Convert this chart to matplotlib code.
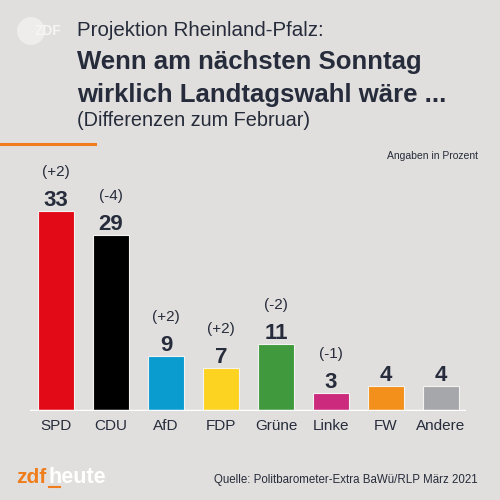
import matplotlib.pyplot as plt
from matplotlib.patches import Circle

plt.rcParams["font.family"] = ["Liberation Sans", "DejaVu Sans"]

# data
parties = ["SPD", "CDU", "AfD", "FDP", "Grüne", "Linke", "FW", "Andere"]
values = [33, 29, 9, 7, 11, 3, 4, 4]
changes = ["(+2)", "(-4)", "(+2)", "(+2)", "(-2)", "(-1)", "", ""]
colors = ["#e30a18", "#000000", "#0a9bcf", "#fdd321", "#409a3d",
          "#cc2a7d", "#f2901b", "#a5a7ab"]

bg = "#e1dfdd"
dark = "#262c3b"
orange = "#f07d1c"

fig = plt.figure(figsize=(5, 5), dpi=100, facecolor=bg)

ax = fig.add_axes([0.06, 0.1786, 0.872, 0.5])
ax.set_facecolor(bg)
x = list(range(len(parties)))
ax.bar(x, values, width=0.64, color=colors, edgecolor="#f4f3f2", linewidth=0.8,
       zorder=2)
ax.set_xlim(-0.473, 7.455)
ax.set_ylim(0, 41.25)
ax.axhline(0, color="white", linewidth=2.5, zorder=3)
for s in ax.spines.values():
    s.set_visible(False)
ax.set_yticks([])
ax.set_xticks(x)
ax.set_xticklabels(parties, fontsize=11, color=dark)
ax.tick_params(axis="x", length=0, pad=6)

for xi, v, c in zip(x, values, changes):
    ax.annotate(str(v), (xi, v), xytext=(0, 5), textcoords="offset pixels",
                ha="center", va="baseline", fontsize=16, fontweight="bold",
                color=dark)
    if c:
        ax.annotate(c, (xi, v), xytext=(0, 35), textcoords="offset pixels",
                    ha="center", va="baseline", fontsize=11, color=dark)

# header
fig.text(0.154, 0.94, "Projektion Rheinland-Pfalz:", fontsize=14.8, color=dark,
         va="center")
fig.text(0.154, 0.876, "Wenn am nächsten Sonntag", fontsize=18.5, color=dark,
         fontweight="bold", va="center")
fig.text(0.154, 0.81, "wirklich Landtagswahl wäre ...", fontsize=18.5,
         color=dark, fontweight="bold", va="center")
fig.text(0.154, 0.758, "(Differenzen zum Februar)", fontsize=14.3, color=dark,
         va="center")
fig.lines.append(plt.Line2D([0, 0.19], [0.712, 0.712], color=orange,
                            linewidth=2.2, transform=fig.transFigure))
fig.text(0.956, 0.688, "Angaben in Prozent", fontsize=7.5, color=dark,
         ha="right", va="center")

# zdf logo
fig.patches.append(Circle((0.062, 0.938), 0.028, transform=fig.transFigure,
                          facecolor="#eeedeb", edgecolor="none"))
fig.text(0.097, 0.938, "ZDF", fontsize=10, color="#f6f5f3", ha="center",
         va="center", fontweight="bold")

# footer
fig.text(0.032, 0.045, "zdf", fontsize=15, color=orange,
         fontweight="bold", va="center")
fig.text(0.097, 0.045, "heute", fontsize=15.5, color="white",
         fontweight="bold", va="center")
fig.lines.append(plt.Line2D([0.098, 0.12], [0.026, 0.026], color=orange,
                            linewidth=1.5, transform=fig.transFigure))
fig.text(0.955, 0.04, "Quelle: Politbarometer-Extra BaWü/RLP März 2021",
         fontsize=8.3, color=dark, ha="right", va="center")

fig.savefig("out.png", dpi=100, facecolor=bg)
